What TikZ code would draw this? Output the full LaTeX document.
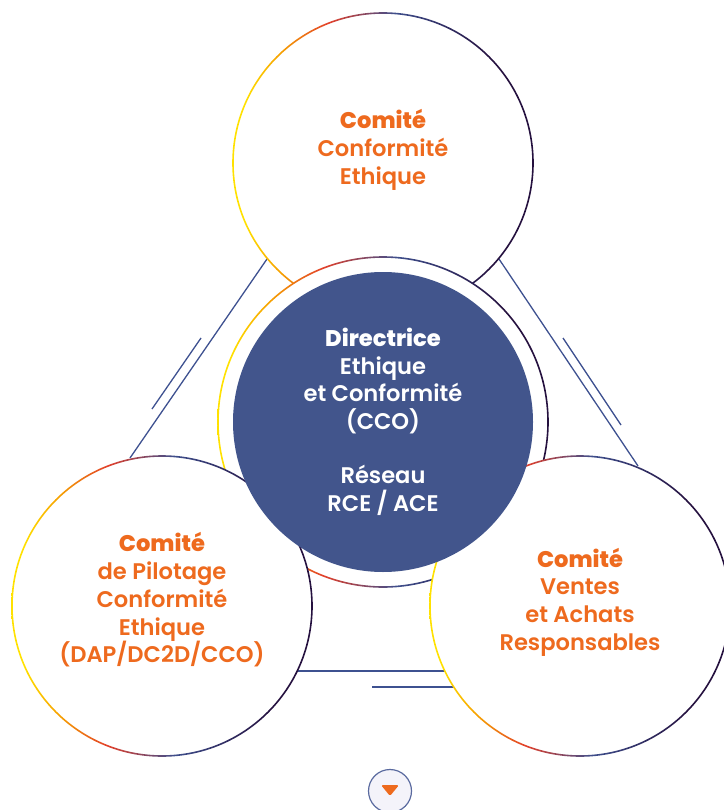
\documentclass[tikz,border=0pt]{standalone}
\usepackage{fontspec}
\newfontfamily\popsemi{Poppins SemiBold}
\newfontfamily\popxbold{Poppins ExtraBold}
\usetikzlibrary{calc}

\definecolor{orangecce}{HTML}{EE6A1E}
\definecolor{bleucco}{HTML}{42558C}
\definecolor{lignebleu}{HTML}{3E5190}
\definecolor{iconbord}{HTML}{5A6A9F}
\definecolor{iconfond}{HTML}{F4F3FA}
\definecolor{gjaune}{HTML}{FFE100}
\definecolor{gorange}{HTML}{F6A000}
\definecolor{grouge}{HTML}{E2402B}
\definecolor{gbleu}{HTML}{3F4F8C}
\definecolor{gviolet}{HTML}{25113F}

\pgfdeclarehorizontalshading{anneaugrad}{100bp}{color(0bp)=(gjaune); color(27bp)=(gjaune); color(33bp)=(gorange); color(41bp)=(grouge); color(52bp)=(gbleu); color(68bp)=(gviolet); color(100bp)=(gviolet)}

\begin{document}
\begin{tikzpicture}[x=1pt, y=-1pt,
    every node/.style={inner sep=0pt, outer sep=0pt},
    bulle/.style={circle, minimum size=300pt, fill=white},
    anneau/.style={shading=anneaugrad, even odd rule},
    trait/.style={draw=lignebleu, line width=1.3pt},
    titre/.style={text=orangecce, align=center, font=\popsemi\fontsize{22.6}{27.7}\selectfont},
    centre/.style={text=white, align=center, font=\popsemi\fontsize{22.6}{27.4}\selectfont}]
    \useasboundingbox (0,0) rectangle (723,810);

    % traits doubles entre les comités
    \coordinate (g1) at (267,259);
    \coordinate (g2) at (130,458);
    \coordinate (g3) at (201,338);
    \coordinate (g4) at (152,409);
    \coordinate (d1) at (499,259);
    \coordinate (d2) at (638,466);
    \coordinate (d3) at (563,338);
    \coordinate (d4) at (621,425);
    \coordinate (b1) at (297,671);
    \coordinate (b2) at (445,671);
    \coordinate (b3) at (372,687);
    \coordinate (b4) at (454,687);
    \draw[trait] (g1) -- (g2);
    \draw[trait] (g3) -- (g4);
    \draw[trait] (d1) -- (d2);
    \draw[trait] (d3) -- (d4);
    \draw[trait] (b1) -- (b2);
    \draw[trait] (b3) -- (b4);

    % comité du haut
    \node[bulle] (conformite) at (383,163) {};
    \shade[anneau] (conformite) circle[radius=150.8] (conformite) circle[radius=149.2];

    % anneau du centre
    \node[circle, minimum size=330pt, fill=white] (anneaucco) at (383,422) {};
    \shade[anneau] (anneaucco) circle[radius=165.8] (anneaucco) circle[radius=164.2];

    % comités du bas
    \node[bulle] (pilotage) at (162,606) {};
    \shade[anneau] (pilotage) circle[radius=150.8] (pilotage) circle[radius=149.2];
    \node[bulle] (ventes) at (580,606) {};
    \shade[anneau] (ventes) circle[radius=150.8] (ventes) circle[radius=149.2];

    % disque de la CCO
    \node[circle, minimum size=300pt, fill=bleucco] (cco) at (383,422) {};

    % textes
    \node[titre] (tconformite) at (383,150) {{\popxbold Comité}\\Conformité\\Ethique};
    \node[centre] (tcco) at (383,422) {{\popxbold Directrice}\\Ethique\\et Conformité\\(CCO)\\[27.4pt]Réseau\\RCE / ACE};
    \node[titre] (tpilotage) at (162,600) {{\popxbold Comité}\\de Pilotage\\Conformité\\Ethique\\(DAP/DC2D/CCO)};
    \node[titre] (tventes) at (580,602) {{\popxbold Comité}\\Ventes\\et Achats\\Responsables};

    % bouton
    \node[circle, draw=iconbord, fill=iconfond, line width=1.2pt, minimum size=43pt] (suite) at (390,791) {};
    \fill[orangecce, rounded corners=1.5pt] ([shift={(-9,-6)}]suite.center) -- ([shift={(9,-6)}]suite.center) -- ([shift={(0,5)}]suite.center) -- cycle;
\end{tikzpicture}
\end{document}
